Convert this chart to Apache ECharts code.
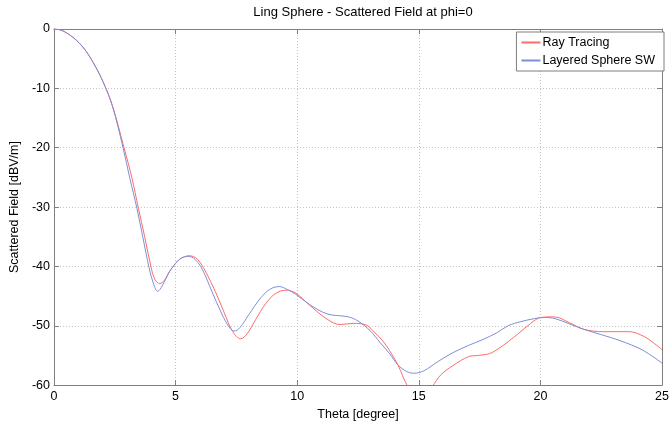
<!DOCTYPE html>
<html>
<head>
<meta charset="utf-8">
<script src="https://cdn.jsdelivr.net/npm/echarts@6/dist/echarts.min.js"></script>
<style>
  html, body { margin: 0; padding: 0; background: #fff; }
  #chart { width: 672px; height: 426px; }
</style>
</head>
<body>
<div id="chart"></div>
<script>
// Scattered field vs. theta (phi = 0), two computation methods
const rayTheta = [0, 0.2, 0.41, 0.81, 1.22, 1.62, 2.03, 2.41, 2.88, 3.2, 3.47, 3.73, 3.99, 4.15, 4.35, 4.55, 4.75, 4.94, 5.2, 5.57, 5.9, 6.25, 6.63, 7.0, 7.35, 7.68, 7.95, 8.3, 8.7, 9.1, 9.54, 9.94, 10.5, 11.23, 11.77, 12.3, 12.85, 13.2, 13.53, 13.8, 14.14, 14.54, 15.05, 15.56, 15.9, 16.37, 17.05, 17.45, 17.9, 18.26, 18.7, 19.07, 19.6, 20.02, 20.56, 21.2, 21.78, 22.59, 23.2, 23.67, 24.1, 24.42, 25];
const rayField = [0, -0.1, -0.4, -1.5, -3.2, -5.7, -9.0, -13.0, -20, -25, -30.2, -35, -40.1, -42.2, -42.9, -42.3, -40.9, -39.8, -38.7, -38.2, -38.8, -41, -44.2, -47.8, -51, -52.2, -51.3, -48.9, -46.3, -44.6, -44.0, -44.5, -46.5, -48.9, -49.8, -49.6, -49.9, -51.2, -52.6, -54.2, -56.6, -60.2, -63, -60.2, -58.3, -56.8, -55.2, -55.0, -54.7, -53.9, -52.6, -51.4, -49.6, -48.6, -48.5, -49.5, -50.6, -51.0, -51.0, -51.0, -51.5, -52.2, -54];

const swTheta = [0, 0.2, 0.41, 0.81, 1.22, 1.62, 2.03, 2.41, 2.84, 3.11, 3.41, 3.65, 3.92, 4.1, 4.26, 4.45, 4.7, 4.94, 5.2, 5.52, 5.8, 6.1, 6.49, 6.9, 7.2, 7.41, 7.65, 8.0, 8.5, 8.9, 9.27, 9.6, 9.94, 10.5, 11.23, 12.1, 12.5, 12.99, 13.4, 13.8, 14.14, 14.5, 14.8, 15.2, 15.8, 16.37, 17.05, 17.59, 18.2, 18.67, 19.2, 19.75, 20.16, 20.6, 21.2, 21.78, 22.5, 23.27, 24.2, 25];
const swField = [0, -0.1, -0.4, -1.5, -3.2, -5.7, -9.0, -13.1, -20, -25, -30.2, -35, -40.4, -43, -44.2, -43.3, -41.2, -39.8, -38.7, -38.3, -38.8, -40.5, -44.2, -48, -50.2, -50.9, -50.3, -48.2, -45.3, -43.8, -43.4, -43.9, -44.7, -46.4, -48.0, -48.5, -49.2, -50.8, -52.8, -54.7, -56.6, -57.7, -58.0, -57.6, -56.0, -54.6, -53.3, -52.4, -51.2, -50.0, -49.3, -48.8, -48.6, -48.8, -49.7, -50.6, -51.5, -52.5, -54.1, -56.3];

const xTicks = [0, 5, 10, 15, 20, 25];
const yTicks = [-60, -50, -40, -30, -20, -10, 0];

const seriesNames = ['Ray Tracing', 'Layered Sphere SW'];
const seriesColors = ['#ff6a6a', '#7d8fd6'];

const FONT = 'Liberation Sans, Arial, sans-serif';
const LABEL_SIZE = 12.5;
const AXIS_GRAY = '#7f7f7f';

function pairs(xs, ys) {
  return xs.map((x, i) => [x, ys[i]]);
}

// top and right axes close the box, with inward ticks and no labels
const boxAxis = {
  axisLine: { show: true, onZero: false, lineStyle: { color: AXIS_GRAY, width: 1 } },
  axisTick: { show: true, inside: true, length: 5, lineStyle: { color: AXIS_GRAY } },
  axisLabel: { show: false },
  splitLine: { show: false }
};
const gridLine = { show: true, lineStyle: { color: '#c4c4c4', type: [1, 2], width: 1 } };

const chart = echarts.init(document.getElementById('chart'), null, { renderer: 'canvas' });
chart.setOption({
  backgroundColor: '#ffffff',
  animation: false,
  textStyle: { fontFamily: FONT },
  title: {
    text: 'Ling Sphere - Scattered Field at phi=0',
    left: 358, top: 1, textAlign: 'center',
    textStyle: { fontFamily: FONT, fontSize: 13, fontWeight: 'normal', color: '#000' }
  },
  grid: { left: 50, right: 6, top: 29, bottom: 34, containLabel: false },
  legend: {
    data: seriesNames,
    orient: 'vertical',
    right: 8, top: 32,
    itemWidth: 19, itemHeight: 2, itemGap: 5,
    icon: 'rect',
    padding: [4, 9, 4, 5],
    backgroundColor: '#fff',
    borderColor: AXIS_GRAY, borderWidth: 1,
    textStyle: { fontFamily: FONT, fontSize: LABEL_SIZE, color: '#000', padding: [0, 0, 0, -3] }
  },
  xAxis: [
    {
      type: 'value', position: 'bottom',
      min: xTicks[0], max: xTicks[xTicks.length - 1], interval: 5,
      name: 'Theta [degree]', nameLocation: 'middle', nameGap: 22,
      nameTextStyle: { fontFamily: FONT, fontSize: LABEL_SIZE, color: '#000' },
      axisLine: { show: true, onZero: false, lineStyle: { color: AXIS_GRAY, width: 1 } },
      axisTick: { show: true, inside: true, length: 5, lineStyle: { color: AXIS_GRAY } },
      axisLabel: { fontFamily: FONT, fontSize: LABEL_SIZE, color: '#000', margin: 5 },
      splitLine: gridLine
    },
    Object.assign({ type: 'value', position: 'top', min: 0, max: 25, interval: 5 }, boxAxis)
  ],
  yAxis: [
    {
      type: 'value', position: 'left',
      min: yTicks[0], max: yTicks[yTicks.length - 1], interval: 10,
      name: 'Scattered Field [dBV/m]', nameLocation: 'middle', nameGap: 21, nameRotate: 90,
      nameTextStyle: { fontFamily: FONT, fontSize: LABEL_SIZE, color: '#000' },
      axisLine: { show: true, onZero: false, lineStyle: { color: AXIS_GRAY, width: 1 } },
      axisTick: { show: true, inside: true, length: 5, lineStyle: { color: AXIS_GRAY } },
      axisLabel: { fontFamily: FONT, fontSize: LABEL_SIZE, color: '#000', margin: 4 },
      splitLine: gridLine
    },
    Object.assign({ type: 'value', position: 'right', min: -60, max: 0, interval: 10 }, boxAxis)
  ],
  series: [
    {
      name: seriesNames[0], type: 'line', xAxisIndex: 0, yAxisIndex: 0,
      data: pairs(rayTheta, rayField),
      showSymbol: false, smooth: 0.35, clip: true,
      lineStyle: { color: seriesColors[0], width: 1 },
      itemStyle: { color: seriesColors[0] }
    },
    {
      name: seriesNames[1], type: 'line', xAxisIndex: 0, yAxisIndex: 0,
      data: pairs(swTheta, swField),
      showSymbol: false, smooth: 0.35, clip: true,
      lineStyle: { color: seriesColors[1], width: 1 },
      itemStyle: { color: seriesColors[1] }
    }
  ]
});
</script>
</body>
</html>
